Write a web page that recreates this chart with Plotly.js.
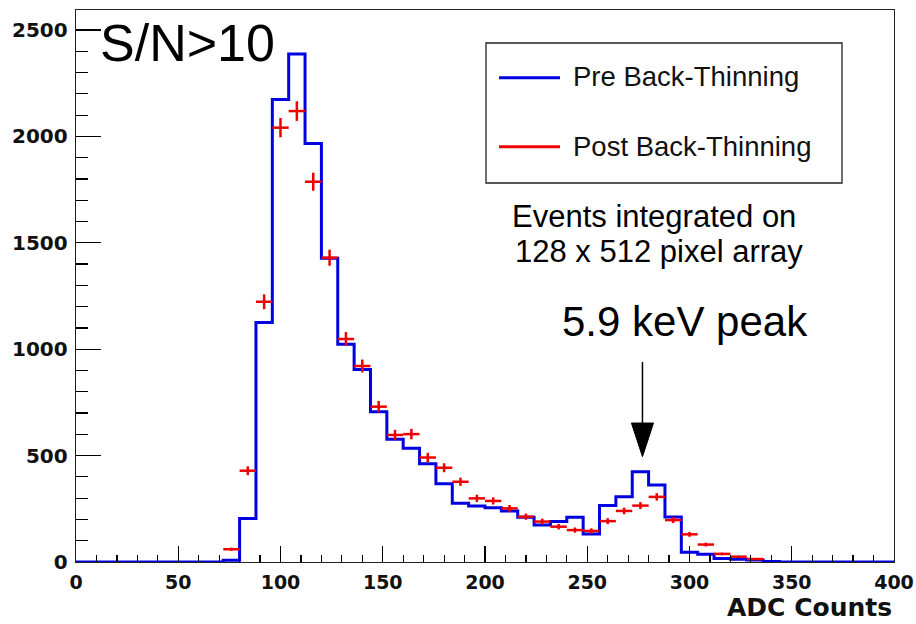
<!DOCTYPE html>
<html>
<head>
<meta charset="utf-8">
<script src="https://cdn.plot.ly/plotly-3.0.1.min.js"></script>
<style>html,body{margin:0;padding:0;background:#fff;}#chart{width:916px;height:624px;}</style>
</head>
<body>
<div id="chart"></div>
<script>
// Histogram bin edges (ADC counts), 8-count bins
const binEdges = [0,8,16,24,32,40,48,56,64,72,80,88,96,104,112,120,128,136,144,152,160,168,176,184,192,200,208,216,224,232,240,248,256,264,272,280,288,296,304,312,320,328,336,344,352,360,368,376,384,392,400];
// Pre back-thinning counts per bin (50 bins)
const preCounts = [0,0,0,0,0,0,0,0,0,8,205,1126,2174,2387,1967,1427,1023,905,706,577,534,462,368,276,263,255,240,210,174,190,210,132,265,307,424,362,212,46,36,17,13,9,2,0,0,0,0,0,0,0];
// Post back-thinning: bin centres and counts
const postCenters = [76,84,92,100,108,116,124,132,140,148,156,164,172,180,188,196,204,212,220,228,236,244,252,260,268,276,284,292,300,308,316,324,332];
const postCounts = [60,429,1223,2041,2119,1787,1430,1048,921,730,597,601,491,443,377,299,287,252,213,190,166,150,146,192,240,265,306,197,130,82,38,25,14];
const halfBin = 4;
const seriesNames = ["Pre Back-Thinning", "Post Back-Thinning"];
const xTicks = [0,50,100,150,200,250,300,350,400];
const yTicks = [0,500,1000,1500,2000,2500];
// Arrow marking the 5.9 keV peak (data coords)
const arrowX = 277, arrowTop = 940, arrowHeadBase = 653, arrowTip = 495, arrowHalfW = 5.4;

const FONT = "Liberation Sans, Arial, Helvetica, sans-serif";
const AXFONT = "DejaVu Sans, Liberation Sans, Arial, sans-serif";
const BLUE = "#0000e0", RED = "#ee0000";

// plot-area pixel geometry helpers for paper coords
const L = 76, R = 22, T = 10, B = 62, W = 916, H = 624;
const pw = W - L - R, ph = H - T - B;
const px = x => (x - L) / pw;
const py = y => (H - B - y) / ph;

const preY = preCounts.concat([preCounts[preCounts.length - 1]]);

const traces = [
  {
    type: "scatter", mode: "lines", x: binEdges, y: preY,
    line: {shape: "hv", color: BLUE, width: 3},
    name: seriesNames[0], showlegend: false, hoverinfo: "x+y"
  },
  {
    type: "scatter", mode: "markers", x: postCenters, y: postCounts,
    marker: {size: 2, color: RED},
    error_x: {type: "constant", value: halfBin, width: 0, color: RED, thickness: 2.5},
    error_y: {type: "sqrt", width: 0, color: RED, thickness: 2.5},
    name: seriesNames[1], showlegend: false
  }
];

const layout = {
  width: W, height: H,
  margin: {l: L, r: R, t: T, b: B, pad: 0},
  paper_bgcolor: "#fff", plot_bgcolor: "#fff",
  showlegend: false,
  font: {family: FONT, color: "#000"},
  xaxis: {
    range: [0, 400], tickmode: "array", tickvals: xTicks, ticktext: xTicks.map(String),
    ticks: "inside", ticklen: 16, tickwidth: 1.2, tickcolor: "#000",
    minor: {dtick: 10, ticks: "inside", ticklen: 7, tickwidth: 1.2, tickcolor: "#000"},
    showline: true, mirror: true, linecolor: "#222", linewidth: 1.3,
    showgrid: false, zeroline: false,
    tickfont: {family: AXFONT, size: 19, weight: "bold", color: "#111"},
    ticklabelstandoff: 3
  },
  yaxis: {
    range: [0, 2594], tickmode: "array", tickvals: yTicks, ticktext: yTicks.map(String),
    ticks: "inside", ticklen: 25, tickwidth: 1.2, tickcolor: "#000",
    minor: {dtick: 100, ticks: "inside", ticklen: 12, tickwidth: 1.2, tickcolor: "#000"},
    showline: true, mirror: true, linecolor: "#222", linewidth: 1.3,
    showgrid: false, zeroline: false,
    tickfont: {family: AXFONT, size: 20, weight: "bold", color: "#111"},
    ticklabelstandoff: 3
  },
  shapes: [
    // legend box
    {type: "rect", xref: "paper", yref: "paper", x0: px(486), x1: px(842), y0: py(183), y1: py(43),
     line: {color: "#222", width: 1.3}, fillcolor: "rgba(255,255,255,0)"},
    {type: "line", xref: "paper", yref: "paper", x0: px(499), x1: px(560), y0: py(77.7), y1: py(77.7),
     line: {color: BLUE, width: 3}},
    {type: "line", xref: "paper", yref: "paper", x0: px(499), x1: px(560), y0: py(146.7), y1: py(146.7),
     line: {color: RED, width: 3}},
    // arrow
    {type: "line", xref: "x", yref: "y", x0: arrowX, x1: arrowX, y0: arrowTop, y1: arrowHeadBase,
     line: {color: "#000", width: 1.5}},
    {type: "path", xref: "x", yref: "y",
     path: `M ${arrowX - arrowHalfW},${arrowHeadBase} L ${arrowX + arrowHalfW},${arrowHeadBase} L ${arrowX},${arrowTip} Z`,
     fillcolor: "#000", line: {color: "#000", width: 1}}
  ],
  annotations: [
    {xref: "paper", yref: "paper", x: px(571), y: py(77), xanchor: "left", yanchor: "middle",
     text: seriesNames[0], showarrow: false, font: {family: FONT, size: 27.5, color: "#111"}},
    {xref: "paper", yref: "paper", x: px(571), y: py(146), xanchor: "left", yanchor: "middle",
     text: seriesNames[1], showarrow: false, font: {family: FONT, size: 27.5, color: "#111"}},
    {xref: "paper", yref: "paper", x: px(98), y: py(43.4), xanchor: "left", yanchor: "middle",
     text: "S/N&gt;10", showarrow: false, font: {family: FONT, size: 52, color: "#000"}},
    {xref: "paper", yref: "paper", x: px(654), y: py(216), xanchor: "center", yanchor: "middle",
     text: "Events integrated on", showarrow: false,
     font: {family: FONT, size: 31, color: "#000"}},
    {xref: "paper", yref: "paper", x: px(659), y: py(252), xanchor: "center", yanchor: "middle",
     text: "128 x 512 pixel array", showarrow: false,
     font: {family: FONT, size: 31, color: "#000"}},
    {xref: "paper", yref: "paper", x: px(685), y: py(321), xanchor: "center", yanchor: "middle",
     text: "5.9 keV peak", showarrow: false, font: {family: FONT, size: 42, color: "#000"}},
    {xref: "paper", yref: "paper", x: px(894), y: py(624), xanchor: "right", yanchor: "bottom",
     text: "ADC Counts", showarrow: false, font: {family: AXFONT, size: 25, weight: "bold", color: "#111"}}
  ]
};

Plotly.newPlot("chart", traces, layout, {displayModeBar: false, staticPlot: true});
</script>
</body>
</html>
